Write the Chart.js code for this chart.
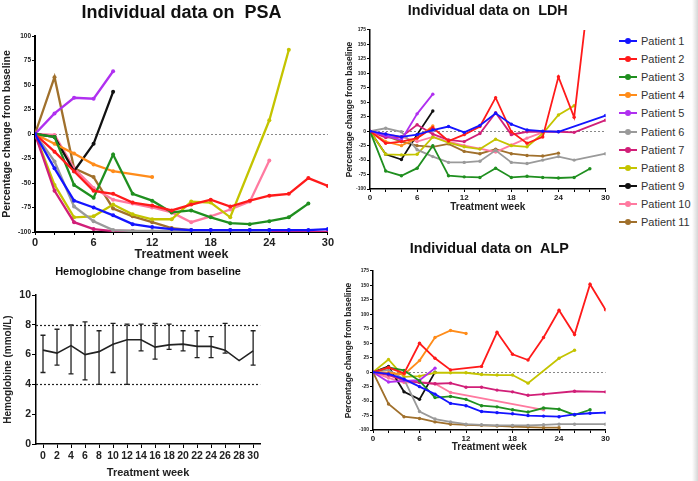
<!DOCTYPE html>
<html>
<head>
<meta charset="utf-8">
<script src="https://cdn.jsdelivr.net/npm/chart.js@4.4.1/dist/chart.umd.min.js"></script>
<style>
  body { margin: 0; width: 698px; height: 481px; background: #fff; position: relative; overflow: hidden;
         font-family: 'Liberation Sans', Arial, sans-serif; }
  .panel { position: absolute; }
  #legend { position: absolute; left: 619px; top: 32px; }
  .leg-row { height: 18.1px; display: flex; align-items: center; font-size: 11px; color: #333; white-space: nowrap; }
  .leg-mark { position: relative; width: 18px; height: 2px; margin-right: 4px; }
  .leg-dot { position: absolute; left: 6px; top: -2px; width: 6px; height: 6px; border-radius: 50%; }
  #edge { position: absolute; left: 692px; top: 0; width: 6px; height: 481px;
          background: linear-gradient(to right, #fff, #d6d6d6); }
</style>
</head>
<body>
<div class="panel" style="left:0;top:0"><canvas id="psa" width="335" height="264"></canvas></div>
<div class="panel" style="left:340px;top:0"><canvas id="ldh" width="271" height="215"></canvas></div>
<div class="panel" style="left:340px;top:236px"><canvas id="alp" width="271" height="220"></canvas></div>
<div class="panel" style="left:0;top:262px"><canvas id="hb" width="261" height="219"></canvas></div>
<div id="legend"></div>
<div id="edge"></div>
<script>
// ---- data ----
const WEEKS = [0, 2, 4, 6, 8, 10, 12, 14, 16, 18, 20, 22, 24, 26, 28, 30];
const PATIENTS = ['Patient 1', 'Patient 2', 'Patient 3', 'Patient 4', 'Patient 5', 'Patient 6',
                  'Patient 7', 'Patient 8', 'Patient 9', 'Patient 10', 'Patient 11'];
const PATIENT_COLORS = ['#1414ff', '#ff1a1a', '#1f8f1f', '#ff8c1a', '#b030f0', '#9a9a9a',
                        '#d11f78', '#c4c400', '#111111', '#ff7aa0', '#a0702c'];

// % change from baseline, one row per patient, one column per WEEKS entry (null = no sample)
const PSA_CHANGE = [
  [0, -35, -68, -75, -83, -92, -95, -97, -98, -98, -98, -98, -98, -98, -98, -97],
  [0, -18, -38, -58, -61, -70, -73, -78, -72, -67, -74, -68, -63, -61, -45, -53],
  [0, -3, -52, -65, -21, -61, -68, -80, -78, -85, -91, -92, -89, -85, -71, null],
  [0, -10, -20, -31, -38, null, -44],
  [0, 21, 37, 36, 64],
  [0, -28, -74, -89, -98, -99, -99, -99, -99, -99, -99, -99, -99],
  [0, -58, -90, -97, -99, -99, -100, -100, -100, -100, -100, -100, -100, -100, -100, -100],
  [0, -52, -85, -84, -72, -82, -87, -87, -69, -70, -85, null, 14, 86],
  [0, -3, -38, -10, 43],
  [0, -1, -35, -55, -67, -71, -75, -80, -90, -84, -77, -69, -27],
  [0, 58, -35, -44, -76, -84, -90, -96, -98, -98, -98, -98, -98]
];
const LDH_CHANGE = [
  [0, -5, -10, -6, 2, 8, -2, 10, 31, 12, 2, 0, -1, null, null, 27],
  [0, -21, -18, -12, 6, -17, -6, 8, 58, -1, -21, -10, 94, 24, 255],
  [0, -69, -77, -64, -25, -77, -79, -80, -64, -80, -78, -80, -81, -80, -65],
  [0, -18, -25, -12, 9],
  [0, -8, -15, 30, 64],
  [0, 5, -1, -32, -44, -54, -54, -52, -33, -54, -56, -50, -44, -50, null, -39],
  [0, -11, -10, 11, -5, -15, -18, -4, 32, -6, -1, -1, -1, -2, null, 19],
  [0, -40, -41, -40, -10, -20, -27, -31, -14, -25, -27, -4, 28, 44],
  [0, -40, -49, -6, 35],
  [0, -5, -10, -18, -10, -18, -25, -30, -36, -24, -12, -2],
  [0, -8, -18, -25, -27, -22, -35, -39, -31, -39, -42, -43, -38]
];
const ALP_CHANGE = [
  [0, -3, -12, -25, -38, -54, -58, -68, -70, -72, -75, -76, -77, -73, -71, -70],
  [0, 8, -2, 50, 24, 4, null, 10, 69, 31, 21, 60, 107, 65, 152, 108],
  [0, 8, 3, -15, -44, -42, -47, -58, -60, -65, -69, -62, -64, -74, -65],
  [0, -1, -4, 20, 60, 72, 67],
  [0, -17, -15, -14, 7],
  [0, 4, -12, -68, -81, -86, -90, -91, -92, -92, -92, -91, -90, -90, null, -90],
  [0, -5, -14, -18, -20, -19, -26, -26, -31, -34, -40, -38, null, -33, null, -34],
  [0, 22, -8, -7, -1, -1, -1, -4, -5, -5, -19, null, 24, 38],
  [0, 10, -34, -47, 0],
  [0, -10, -18, -17, -20, -35, null, null, null, null, null, -65],
  [0, -55, -77, -80, -86, -90, -91, -92, -93, -94, -95, -96, -96]
];

// hemoglobin mean and error bar ends (mmol/L)
const HB_WEEKS = ['0', '2', '4', '6', '8', '10', '12', '14', '16', '18', '20', '22', '24', '26', '28', '30'];
const HB_MEAN = [6.3, 6.1, 6.6, 6.0, 6.2, 6.7, 7.0, 7.0, 6.5, 6.65, 6.7, 6.55, 6.55, 6.3, 5.6, 6.25];
const HB_LOW  = [4.8, 5.3, 4.7, 4.3, 4.0, 4.8, 4.0, 6.25, 5.7, 6.35, 6.25, 5.8, 5.8, 6.1, null, 5.3];
const HB_HIGH = [7.3, 7.7, 8.0, 8.2, 7.6, 8.1, 8.05, 8.05, 8.1, 8.05, 7.6, 7.6, 7.2, 8.1, null, 7.6];
const HB_LIMITS = [4, 8];

const FONT = "'Liberation Sans', Arial, sans-serif";
Chart.defaults.font.family = FONT;
Chart.defaults.font.weight = 'bold';
Chart.defaults.color = '#222';
Chart.defaults.animation = false;

// dashed horizontal reference lines (0 %, normal range)
const refLinesPlugin = {
  id: 'refLines',
  beforeDatasetsDraw(chart, args, opts) {
    if (!opts.values) return;
    const { ctx, chartArea, scales } = chart;
    ctx.save();
    ctx.strokeStyle = opts.color || '#888';
    ctx.lineWidth = opts.width || 1;
    ctx.setLineDash(opts.dash || [2, 2]);
    opts.values.forEach(v => {
      const y = Math.round(scales.y.getPixelForValue(v)) + 0.5;
      ctx.beginPath();
      ctx.moveTo(chartArea.left, y);
      ctx.lineTo(chartArea.right, y);
      ctx.stroke();
    });
    ctx.restore();
  }
};

// vertical error bars with caps
const errorBarsPlugin = {
  id: 'errorBars',
  afterDatasetsDraw(chart, args, opts) {
    if (!opts.low) return;
    const { ctx, scales: { x, y } } = chart;
    ctx.save();
    ctx.strokeStyle = '#222';
    ctx.lineWidth = 1.3;
    opts.low.forEach((lo, i) => {
      const hi = opts.high[i];
      if (lo == null || hi == null) return;
      const px = x.getPixelForValue(i);
      const yLo = y.getPixelForValue(lo), yHi = y.getPixelForValue(hi);
      ctx.beginPath();
      ctx.moveTo(px, yLo); ctx.lineTo(px, yHi);
      ctx.moveTo(px - 2.5, yLo); ctx.lineTo(px + 2.5, yLo);
      ctx.moveTo(px - 2.5, yHi); ctx.lineTo(px + 2.5, yHi);
      ctx.stroke();
    });
    ctx.restore();
  }
};
Chart.register(refLinesPlugin, errorBarsPlugin);

function patientDatasets(rows, lineWidth, radius) {
  return rows.map((vals, i) => ({
    label: PATIENTS[i],
    data: WEEKS.map((w, k) => ({ x: w, y: vals[k] ?? null })).filter(p => p.y !== null),
    borderColor: PATIENT_COLORS[i],
    backgroundColor: PATIENT_COLORS[i],
    borderWidth: lineWidth,
    pointRadius: radius,
    pointBorderWidth: 0,
    tension: 0
  }));
}

// % change panels (PSA, LDH, ALP)
function pctChart(id, rows, c) {
  return new Chart(document.getElementById(id), {
    type: 'line',
    data: { datasets: patientDatasets(rows, c.lineWidth, c.radius) },
    options: {
      responsive: false,
      layout: { padding: 0 },
      scales: {
        x: {
          type: 'linear', min: 0, max: 30,
          afterFit: s => { s.height = c.xHeight; },
          ticks: { stepSize: 2, autoSkip: false, maxRotation: 0, padding: 1,
                   font: { size: c.xTick }, callback: v => (v % 6 === 0 ? v : '') },
          grid: { drawOnChartArea: false, tickLength: 3, color: '#000' },
          border: { color: '#000', width: c.axisWidth },
          title: { display: true, text: 'Treatment week', font: { size: c.xTitle },
                   padding: { top: 0, bottom: c.xTitlePad } }
        },
        y: {
          min: -100, max: c.yMax,
          afterFit: s => { s.width = c.yWidth; },
          ticks: { stepSize: 25, padding: 1, font: { size: c.yTick } },
          grid: { drawOnChartArea: false, tickLength: 3, color: '#000' },
          border: { color: '#000', width: c.axisWidth },
          title: { display: true, text: 'Percentage change from baseline', font: { size: c.yTitle },
                   padding: { top: c.yTitlePad, bottom: 0 } }
        }
      },
      plugins: {
        legend: { display: false },
        tooltip: { enabled: false },
        title: { display: true, fullSize: false, text: c.title, color: '#111',
                 font: { size: c.titleSize }, padding: c.titlePad },
        refLines: { values: [0], color: '#888', width: 1, dash: [2, 2] }
      }
    }
  });
}

pctChart('psa', PSA_CHANGE, {
  title: 'Individual data on  PSA', titleSize: 18, titlePad: { top: 2, bottom: 12.4 },
  yMax: 100, yWidth: 35, xHeight: 32, lineWidth: 2.3, radius: 2, axisWidth: 2,
  xTick: 11, yTick: 6.5, xTitle: 12.5, yTitle: 10.5, xTitlePad: 1.5, yTitlePad: 1
});
pctChart('ldh', LDH_CHANGE, {
  title: 'Individual data on  LDH', titleSize: 14.4, titlePad: { top: 2.4, bottom: 10.3 },
  yMax: 175, yWidth: 30, xHeight: 26, lineWidth: 1.8, radius: 1.7, axisWidth: 1.5,
  xTick: 8, yTick: 5, xTitle: 10, yTitle: 8.5, xTitlePad: 2, yTitlePad: 5
});
pctChart('alp', ALP_CHANGE, {
  title: 'Individual data on  ALP', titleSize: 14.4, titlePad: { top: 4.4, bottom: 13.3 },
  yMax: 175, yWidth: 33, xHeight: 26, lineWidth: 1.8, radius: 1.7, axisWidth: 1.5,
  xTick: 8, yTick: 5, xTitle: 10, yTitle: 8.5, xTitlePad: 3, yTitlePad: 4
});

// hemoglobin panel
new Chart(document.getElementById('hb'), {
  type: 'line',
  data: {
    labels: HB_WEEKS,
    datasets: [{
      data: HB_MEAN,
      borderColor: '#222',
      borderWidth: 1.6,
      pointRadius: 0,
      tension: 0
    }]
  },
  options: {
    responsive: false,
    layout: { padding: 0 },
    scales: {
      x: {
        offset: true,
        afterFit: s => { s.height = 37; },
        ticks: { autoSkip: false, maxRotation: 0, padding: 2, font: { size: 10.5 } },
        grid: { drawOnChartArea: false, tickLength: 4, color: '#000' },
        border: { color: '#000', width: 1.5 },
        title: { display: true, text: 'Treatment week', font: { size: 11 }, padding: { top: 0, bottom: 1.5 } }
      },
      y: {
        min: 0, max: 10,
        afterFit: s => { s.width = 36; },
        ticks: { stepSize: 2, padding: 1, font: { size: 10.5 } },
        grid: { drawOnChartArea: false, tickLength: 4, color: '#000' },
        border: { color: '#000', width: 1.5 },
        title: { display: true, text: 'Hemoglobine (mmol/L)', font: { size: 10 }, padding: { top: 2, bottom: 0 } }
      }
    },
    plugins: {
      legend: { display: false },
      tooltip: { enabled: false },
      title: { display: true, fullSize: false, text: 'Hemoglobine change from baseline', color: '#111',
               font: { size: 11 }, padding: { top: 3.7, bottom: 16.1 } },
      refLines: { values: HB_LIMITS, color: '#222', width: 1.2, dash: [2, 2] },
      errorBars: { low: HB_LOW, high: HB_HIGH }
    }
  }
});

// shared legend
const legendEl = document.getElementById('legend');
PATIENTS.forEach((name, i) => {
  const row = document.createElement('div');
  row.className = 'leg-row';
  row.innerHTML = `<span class="leg-mark" style="background:${PATIENT_COLORS[i]}"><span class="leg-dot" style="background:${PATIENT_COLORS[i]}"></span></span>${name}`;
  legendEl.appendChild(row);
});
</script>
</body>
</html>
